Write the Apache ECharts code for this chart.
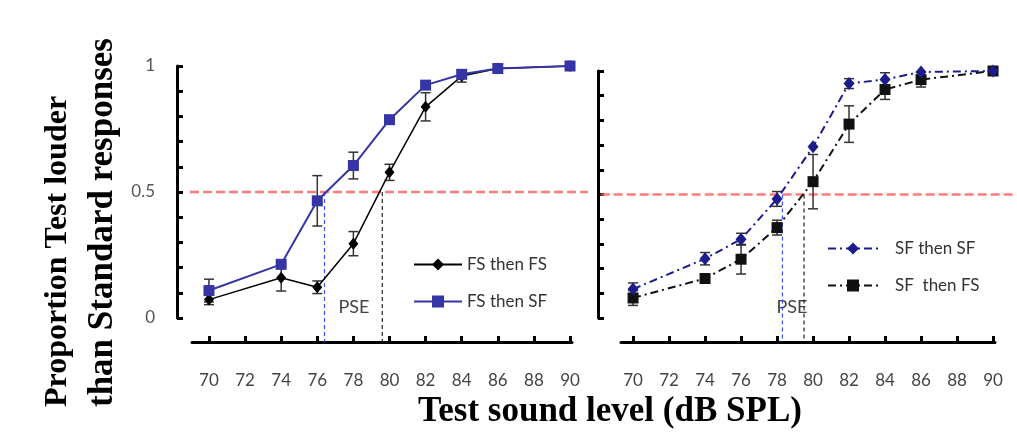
<!DOCTYPE html>
<html>
<head>
<meta charset="utf-8">
<script src="https://cdn.jsdelivr.net/npm/echarts@6/dist/echarts.min.js"></script>
<style>
  html, body { margin: 0; padding: 0; background: #fff; }
  #main { width: 1017px; height: 441px; }
</style>
</head>
<body>
<div id="main"></div>
<script>
// test sound levels (dB SPL)
const levels = [70, 74, 76, 78, 80, 82, 84, 86, 90];
const xTicks = [70, 72, 74, 76, 78, 80, 82, 84, 86, 88, 90];
const yLabels = [0, 0.5, 1];

// left panel
const fsThenFs = [0.073, 0.16, 0.122, 0.295, 0.578, 0.838, 0.96, 0.99, 1.0];
const fsThenFsErr = [0.02, 0.053, 0.025, 0.048, 0.032, 0.056, 0.024, 0, 0];
const fsThenSf = [0.109, 0.213, 0.465, 0.605, 0.787, 0.924, 0.967, 0.99, 1.0];
const fsThenSfErr = [0.045, 0, 0.1, 0.053, 0, 0, 0, 0, 0];
const pseLeft = [76.4, 79.6];

// right panel
const sfThenSf = [0.117, 0.24, 0.319, 0.482, 0.693, 0.949, 0.966, 0.996, 1.0];
const sfThenSfErr = [0.025, 0.025, 0.024, 0.03, 0, 0.02, 0.027, 0, 0];
const sfThenFs = [0.081, 0.16, 0.238, 0.366, 0.552, 0.785, 0.925, 0.965, 1.0];
const sfThenFsErr = [0.03, 0, 0.06, 0.03, 0.11, 0.074, 0.04, 0.03, 0];
const pseRight = [78.3, 79.5];

const criterion = 0.5;

const SANS = 'Lato, "Liberation Sans", sans-serif';
const SERIF = '"Liberation Serif", "DejaVu Serif", serif';
const X_OFFSET = 24;

function pairs(ys) {
  return levels.map((x, i) => [x, ys[i]]);
}
function errRows(ys, errs) {
  const out = [];
  levels.forEach((x, i) => {
    if (errs[i] > 0) out.push([x, ys[i] - errs[i], ys[i] + errs[i]]);
  });
  return out;
}

function errorBar(params, api) {
  const x = api.value(0);
  const top = api.coord([x, api.value(2)]);
  const bot = api.coord([x, api.value(1)]);
  const w = 5;
  const st = () => ({ stroke: '#333', lineWidth: 1.5 });
  return {
    type: 'group',
    children: [
      { type: 'line', shape: { x1: top[0], y1: top[1], x2: bot[0], y2: bot[1] }, style: st() },
      { type: 'line', shape: { x1: top[0] - w, y1: top[1], x2: top[0] + w, y2: top[1] }, style: st() },
      { type: 'line', shape: { x1: bot[0] - w, y1: bot[1], x2: bot[0] + w, y2: bot[1] }, style: st() }
    ]
  };
}

// red criterion line, drawn a bit past the plot edges like the original
function criterionLine(params, api) {
  const a = api.coord([api.value(0), api.value(2)]);
  const b = api.coord([api.value(1), api.value(2)]);
  return {
    type: 'line',
    shape: { x1: a[0], y1: a[1], x2: b[0], y2: b[1] },
    style: { stroke: 'rgba(255,90,90,0.8)', lineWidth: 2.5, lineDash: [9, 4] }
  };
}

// PSE drop lines, from the criterion down to the x axis
function pseLine(color) {
  return function (params, api) {
    const p = api.coord([api.value(0), criterion]);
    const cs = params.coordSys;
    return {
      type: 'line',
      shape: { x1: p[0], y1: p[1], x2: p[0], y2: cs.y + cs.height + X_OFFSET },
      style: { stroke: color, lineWidth: 1.2, lineDash: [4, 3] }
    };
  };
}

const axisCommon = {
  axisLine: { show: true, onZero: false, lineStyle: { color: '#000', width: 3 } },
  axisTick: { show: true, inside: true, length: 6, lineStyle: { color: '#000', width: 3 } },
  splitLine: { show: false }
};

function makeX(gridIndex, min, max) {
  return Object.assign({}, axisCommon, {
    type: 'value', gridIndex, min, max, offset: X_OFFSET,
    axisTick: Object.assign({}, axisCommon.axisTick, { customValues: xTicks }),
    axisLabel: { customValues: xTicks, margin: 30, fontSize: 17, color: '#444', fontFamily: SANS }
  });
}
function makeY(gridIndex, offset, showLabels) {
  return Object.assign({}, axisCommon, {
    type: 'value', gridIndex, min: 0, max: 1, interval: 0.1, offset,
    axisLabel: {
      show: showLabels, customValues: yLabels, margin: 22,
      fontSize: 17, color: '#555', fontFamily: SANS
    }
  });
}

const dashDot = [8, 4, 2, 4];

const option = {
  backgroundColor: '#fff',
  animation: false,
  grid: [
    { left: 192, right: 445, top: 66, bottom: 123 },
    { left: 621, right: 22, top: 71, bottom: 123 }
  ],
  xAxis: [makeX(0, 69.06, 90.11), makeX(1, 69.33, 90.11)],
  yAxis: [makeY(0, 15, true), makeY(1, 23, false)],
  legend: [
    {
      data: ['FS then FS', 'FS then SF'], orient: 'vertical', left: 408, top: 251,
      itemWidth: 48, itemHeight: 15, itemGap: 20,
      textStyle: { fontSize: 17, color: '#333', fontFamily: SANS }
    },
    {
      data: ['SF then SF', 'SF  then FS'], orient: 'vertical', left: 822, top: 235,
      itemWidth: 50, itemHeight: 15, itemGap: 20,
      textStyle: { fontSize: 17, color: '#333', fontFamily: SANS, padding: [0, 0, 0, 12] }
    }
  ],
  graphic: [
    {
      type: 'text', x: 35, y: 407, rotation: Math.PI / 2,
      style: {
        text: '{a|Proportion Test louder}\n{b|than Standard responses}',
        fill: '#000', textAlign: 'left', textVerticalAlign: 'top',
        rich: {
          a: { font: 'bold 32px ' + SERIF, lineHeight: 45 },
          b: { font: 'bold 35px ' + SERIF, lineHeight: 45 }
        }
      }
    },
    {
      type: 'text', x: 610, y: 412,
      style: {
        text: 'Test sound level (dB SPL)', font: 'bold 35px ' + SERIF, fill: '#000',
        textAlign: 'center', textVerticalAlign: 'middle'
      }
    },
    {
      type: 'text', x: 354, y: 307,
      style: { text: 'PSE', font: '18px ' + SANS, fill: '#444', textAlign: 'center', textVerticalAlign: 'middle' }
    },
    {
      type: 'text', x: 792, y: 307,
      style: { text: 'PSE', font: '18px ' + SANS, fill: '#444', textAlign: 'center', textVerticalAlign: 'middle' }
    }
  ],
  series: [
    // reference lines
    { type: 'custom', xAxisIndex: 0, yAxisIndex: 0, renderItem: criterionLine, data: [[68.95, 91.0, criterion]], z: 1, silent: true },
    { type: 'custom', xAxisIndex: 1, yAxisIndex: 1, renderItem: criterionLine, data: [[68.2, 91.1, criterion]], z: 1, silent: true },
    { type: 'custom', xAxisIndex: 0, yAxisIndex: 0, renderItem: pseLine('#3d52ff'), data: [[pseLeft[0]]], z: 1, silent: true },
    { type: 'custom', xAxisIndex: 0, yAxisIndex: 0, renderItem: pseLine('#222'), data: [[pseLeft[1]]], z: 1, silent: true },
    { type: 'custom', xAxisIndex: 1, yAxisIndex: 1, renderItem: pseLine('#3d52ff'), data: [[pseRight[0]]], z: 1, silent: true },
    { type: 'custom', xAxisIndex: 1, yAxisIndex: 1, renderItem: pseLine('#222'), data: [[pseRight[1]]], z: 1, silent: true },

    // error bars
    { type: 'custom', xAxisIndex: 0, yAxisIndex: 0, renderItem: errorBar, data: errRows(fsThenFs, fsThenFsErr), z: 2 },
    { type: 'custom', xAxisIndex: 0, yAxisIndex: 0, renderItem: errorBar, data: errRows(fsThenSf, fsThenSfErr), z: 2 },
    { type: 'custom', xAxisIndex: 1, yAxisIndex: 1, renderItem: errorBar, data: errRows(sfThenSf, sfThenSfErr), z: 2 },
    { type: 'custom', xAxisIndex: 1, yAxisIndex: 1, renderItem: errorBar, data: errRows(sfThenFs, sfThenFsErr), z: 2 },

    // curves
    {
      name: 'FS then FS', type: 'line', xAxisIndex: 0, yAxisIndex: 0, data: pairs(fsThenFs),
      symbol: 'diamond', symbolSize: [10, 12], color: '#000',
      lineStyle: { color: '#000', width: 1.5 }, z: 3
    },
    {
      name: 'FS then SF', type: 'line', xAxisIndex: 0, yAxisIndex: 0, data: pairs(fsThenSf),
      symbol: 'rect', symbolSize: 11, color: '#3535a5',
      lineStyle: { color: '#3535a5', width: 2 }, z: 4
    },
    {
      name: 'SF then SF', type: 'line', xAxisIndex: 1, yAxisIndex: 1, data: pairs(sfThenSf),
      symbol: 'diamond', symbolSize: [11, 13], color: '#1c1c8c',
      lineStyle: { color: '#1c1c8c', width: 2, type: dashDot }, z: 4
    },
    {
      name: 'SF  then FS', type: 'line', xAxisIndex: 1, yAxisIndex: 1, data: pairs(sfThenFs),
      symbol: 'rect', symbolSize: 11, color: '#111',
      lineStyle: { color: '#111', width: 2, type: dashDot }, z: 3
    }
  ]
};

const chart = echarts.init(document.getElementById('main'));
chart.setOption(option);
</script>
</body>
</html>
